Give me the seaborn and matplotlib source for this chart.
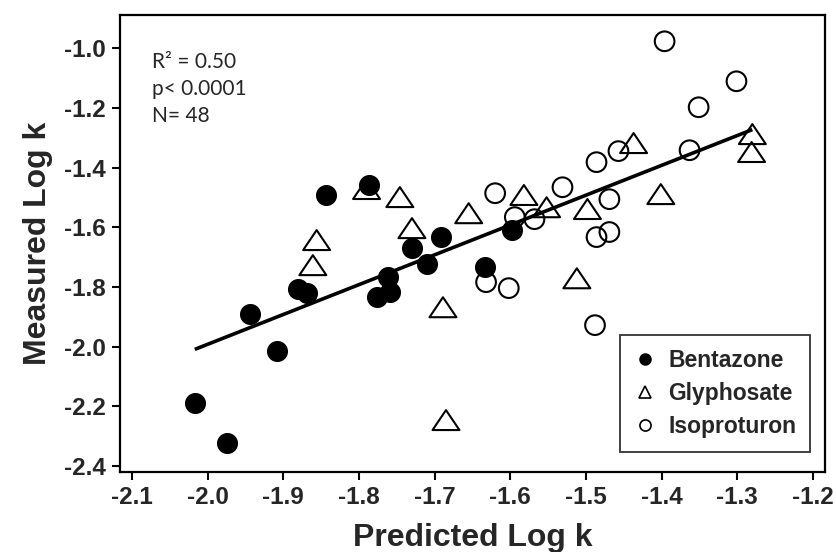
import numpy as np
import pandas as pd
import seaborn as sns
import matplotlib.pyplot as plt
from matplotlib.lines import Line2D
from matplotlib.path import Path

# predicted / measured log k
benta_pred = [-2.017, -1.974, -1.944, -1.908, -1.881, -1.869, -1.844, -1.787,
              -1.776, -1.759, -1.762, -1.730, -1.710, -1.692, -1.634, -1.598]
benta_meas = [-2.189, -2.323, -1.891, -2.015, -1.807, -1.821, -1.492, -1.459,
              -1.834, -1.817, -1.767, -1.670, -1.724, -1.633, -1.734, -1.610]

glypho_pred = [-1.790, -1.746, -1.856, -1.861, -1.730, -1.655, -1.689, -1.685,
               -1.582, -1.552, -1.498, -1.512, -1.437, -1.401, -1.280, -1.281]
glypho_meas = [-1.472, -1.499, -1.643, -1.727, -1.603, -1.553, -1.868, -2.246,
               -1.492, -1.533, -1.539, -1.771, -1.318, -1.489, -1.288, -1.348]

iso_pred = [-1.396, -1.301, -1.351, -1.363, -1.457, -1.486, -1.531, -1.620,
            -1.469, -1.594, -1.568, -1.486, -1.469, -1.632, -1.602, -1.488]
iso_meas = [-0.977, -1.111, -1.198, -1.342, -1.345, -1.382, -1.466, -1.486,
            -1.506, -1.566, -1.573, -1.633, -1.616, -1.784, -1.804, -1.928]

x_ticks = [-2.1, -2.0, -1.9, -1.8, -1.7, -1.6, -1.5, -1.4, -1.3, -1.2]
y_ticks = [-2.4, -2.2, -2.0, -1.8, -1.6, -1.4, -1.2, -1.0]

df = pd.DataFrame({
    "pred": benta_pred + glypho_pred + iso_pred,
    "meas": benta_meas + glypho_meas + iso_meas,
    "compound": ["Bentazone"] * 16 + ["Glyphosate"] * 16 + ["Isoproturon"] * 16,
})

sns.set_style("white")
plt.rcParams["font.family"] = ["Liberation Sans", "DejaVu Sans"]

# wide triangle like the original
tri = Path([(0, 1), (-1.35, -1), (1.35, -1), (0, 1)],
           [Path.MOVETO, Path.LINETO, Path.LINETO, Path.CLOSEPOLY])

fig = plt.figure(figsize=(8.36, 5.52), dpi=100)
ax = fig.add_axes([0.1435, 0.1449, 0.8433, 0.8279])

g = df[df.compound == "Glyphosate"]
sns.scatterplot(data=g, x="pred", y="meas", marker=tri, s=376,
                facecolor="none", edgecolor="black", linewidth=1.5, ax=ax)
i = df[df.compound == "Isoproturon"]
sns.scatterplot(data=i, x="pred", y="meas", marker="o", s=200,
                facecolor="none", edgecolor="black", linewidth=1.5, ax=ax)
b = df[df.compound == "Bentazone"]
sns.scatterplot(data=b, x="pred", y="meas", marker="o", s=200,
                color="black", edgecolor="black", linewidth=1, ax=ax)

sns.regplot(data=df, x="pred", y="meas", scatter=False, ci=None, truncate=True,
            color="black", line_kws={"lw": 2.6, "solid_capstyle": "butt"}, ax=ax)

ax.set_xlim(-2.116, -1.184)
ax.set_ylim(-2.42, -0.889)
ax.set_xticks(x_ticks)
ax.set_yticks(y_ticks)
ax.set_xticklabels([f"{v:.1f}" for v in x_ticks], fontweight="bold", fontsize=17.5)
ax.set_yticklabels([f"{v:.1f}" for v in y_ticks], fontweight="bold", fontsize=17.5)
ax.tick_params(direction="out", length=6, width=1.5, color="black", pad=4,
               bottom=True, left=True)
for sp in ax.spines.values():
    sp.set_visible(True)
    sp.set_color("black")
    sp.set_linewidth(1.6)

ax.set_xlabel("Predicted Log k", fontweight="bold", fontsize=23, labelpad=10)
ax.set_ylabel("Measured Log k", fontweight="bold", fontsize=23, labelpad=8)

ax.text(0.045, 0.918, "R² = 0.50\np< 0.0001\nN= 48", transform=ax.transAxes,
        ha="left", va="top", fontsize=15, family=["Lato", "DejaVu Sans"],
        linespacing=1.42)

handles = [
    Line2D([], [], ls="none", marker="o", ms=8, mfc="black", mec="black"),
    Line2D([], [], ls="none", marker="^", ms=8, mfc="none", mec="black", mew=1.2),
    Line2D([], [], ls="none", marker="o", ms=8, mfc="none", mec="black", mew=1.2),
]
leg = ax.legend(handles, ["Bentazone", "Glyphosate", "Isoproturon"],
                loc="lower right", bbox_to_anchor=(0.979, 0.044),
                prop={"weight": "bold", "size": 16.5}, frameon=True, fancybox=False,
                edgecolor="black", handlelength=1.0, handletextpad=0.5,
                borderpad=0.6, labelspacing=0.45, borderaxespad=0)
leg.get_frame().set_linewidth(1.3)

fig.savefig("out.png", dpi=100)
